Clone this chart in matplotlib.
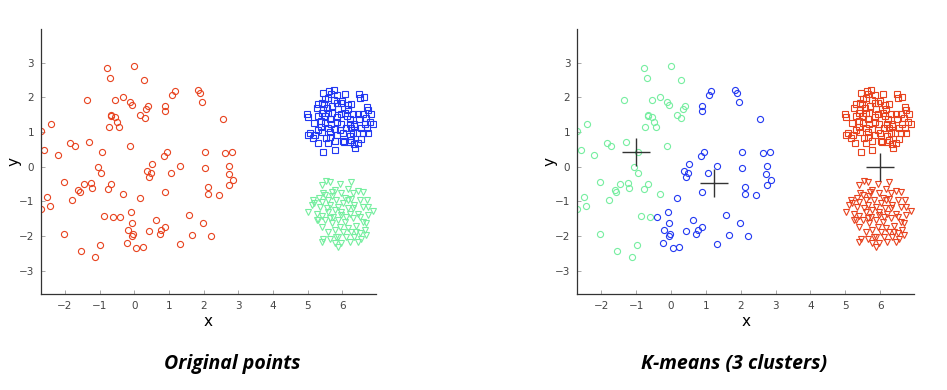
import numpy as np
import matplotlib
matplotlib.use("Agg")
import matplotlib.pyplot as plt

# --- dati ---
# disco centrale (cerchi)
circ_x = [-0.79, 0.00, -0.70, 0.28, -1.36, -0.55, -0.33, -0.12, -0.06, 0.40,
          0.35, 0.16, 0.30, -0.66, -0.66, -0.56, -0.49, -0.74, -0.44, -2.41,
          -2.69, -2.59, -1.85, -1.72, -1.30, -0.12, -2.20, -0.94, -1.05, -0.96,
          0.51, 0.38, 0.48, 0.42, -2.03, -1.46, -1.24, -1.21, -0.67, -0.77,
          -1.62, -1.57, -0.32, 0.16, -2.51, -1.79, -2.43, -2.69, -0.09, -0.87,
          -0.61, -0.41, -0.06, 0.63, -0.19, 0.42, -0.03, -0.07, -2.03, -0.98,
          -0.22, 0.24, 0.06, -1.55, -1.12,
          1.16, 1.10, 1.84, 1.89, 1.95, 0.90, 0.90, 2.56, 0.94, 0.87,
          2.05, 2.63, 2.83, 1.31, 2.03, 2.74, 1.07, 2.73, 2.86, 2.74,
          2.13, 2.13, 2.44, 0.90, 1.58, 1.98, 0.88, 0.76, 0.73, 1.67,
          2.21, 1.31]
circ_y = [2.83, 2.90, 2.55, 2.49, 1.91, 1.92, 2.01, 1.85, 1.78, 1.76,
          1.66, 1.49, 1.39, 1.50, 1.45, 1.43, 1.30, 1.15, 1.13, 1.23,
          1.02, 0.48, 0.69, 0.60, 0.72, 0.60, 0.35, 0.43, 0.00, -0.19,
          0.09, -0.11, -0.18, -0.29, -0.45, -0.51, -0.47, -0.61, -0.49, -0.65,
          -0.66, -0.74, -0.78, -0.89, -0.87, -0.97, -1.14, -1.23, -1.31, -1.43,
          -1.46, -1.46, -1.62, -1.54, -1.83, -1.86, -1.94, -2.01, -1.95, -2.25,
          -2.21, -2.31, -2.35, -2.43, -2.61,
          2.18, 2.07, 2.22, 2.13, 1.87, 1.76, 1.61, 1.36, 0.43, 0.32,
          0.43, 0.38, 0.43, 0.02, -0.04, 0.02, -0.18, -0.22, -0.37, -0.53,
          -0.59, -0.80, -0.83, -0.73, -1.38, -1.63, -1.74, -1.83, -1.93, -1.97,
          -1.99, -2.22]

# gruppo in alto a destra (quadrati)
sq_x = [5.63, 5.75, 5.45, 5.66, 5.86, 6.07, 6.47, 6.62, 5.59, 5.50,
        5.76, 6.00, 6.26, 5.30, 5.41, 5.48, 5.71, 5.84, 5.95, 6.72,
        5.26, 5.56, 5.43, 5.88, 6.17, 6.74, 4.99, 5.30, 5.58, 5.95,
        6.13, 6.30, 6.45, 6.59, 6.83, 5.02, 5.38, 5.64, 5.84, 6.22,
        6.49, 6.68, 5.50, 5.67, 5.97, 6.21, 6.33, 6.81, 6.88, 5.38,
        5.59, 5.78, 6.12, 6.26, 6.53, 6.72, 5.08, 5.21, 5.41, 5.64,
        5.85, 6.01, 6.21, 6.43, 6.74, 5.16, 5.54, 5.64, 5.78, 6.02,
        6.26, 6.53, 5.29, 6.05, 6.21, 6.35, 6.45, 5.45, 5.78, 6.37,
        6.07, 6.35, 5.69, 5.19, 5.50, 6.64, 5.84, 5.02, 6.50, 5.40,
        5.93, 6.31, 5.59, 6.15, 5.31, 6.59]
sq_y = [2.19, 2.22, 2.11, 2.08, 2.06, 2.08, 2.08, 2.00, 1.98, 1.96,
        1.91, 1.88, 1.80, 1.81, 1.83, 1.82, 1.76, 1.83, 1.83, 1.71,
        1.68, 1.68, 1.64, 1.67, 1.65, 1.63, 1.51, 1.47, 1.55, 1.51,
        1.47, 1.51, 1.51, 1.51, 1.51, 1.42, 1.32, 1.36, 1.30, 1.36,
        1.36, 1.39, 1.26, 1.22, 1.23, 1.23, 1.18, 1.28, 1.23, 1.14,
        1.11, 1.08, 1.12, 1.11, 1.11, 1.11, 0.97, 0.92, 0.99, 0.99,
        0.91, 0.97, 0.88, 0.97, 0.97, 0.83, 0.83, 0.86, 0.75, 0.73,
        0.78, 0.81, 0.68, 0.70, 0.70, 0.66, 0.68, 0.41, 0.49, 0.54,
        1.55, 1.24, 1.55, 1.26, 1.45, 1.23, 1.42, 0.92, 1.98, 1.55,
        1.07, 0.97, 0.68, 1.79, 1.07, 0.97]

# gruppo in basso a destra (triangoli)
tri_x = [5.53, 5.64, 5.93, 6.26, 5.40, 5.78, 6.16, 6.45, 6.59, 5.43,
         5.71, 5.97, 6.31, 5.16, 5.33, 5.59, 5.83, 6.07, 6.26, 6.50,
         6.72, 5.02, 5.19, 5.40, 5.64, 5.88, 6.15, 6.35, 6.59, 6.88,
         5.26, 5.40, 5.59, 5.78, 5.97, 6.21, 6.45, 6.74, 5.31, 5.50,
         5.64, 5.88, 6.07, 6.31, 6.50, 5.40, 5.69, 5.93, 6.16, 6.40,
         6.64, 5.78, 6.02, 6.26, 6.50, 6.69, 5.45, 5.64, 5.88, 6.12,
         6.35, 6.55, 5.78, 5.97, 6.21, 5.55, 5.74, 6.02, 6.31, 5.12,
         6.59, 6.40, 5.59, 5.35, 5.88, 6.74, 6.16, 5.69, 5.50, 5.97,
         5.26, 6.69, 6.12, 5.83, 6.45, 5.40]
tri_y = [-0.40, -0.43, -0.50, -0.45, -0.53, -0.67, -0.63, -0.70, -0.72, -0.75,
         -0.72, -0.75, -0.77, -0.96, -0.91, -0.96, -0.96, -0.91, -0.93, -0.96,
         -0.96, -1.30, -1.04, -1.01, -1.11, -1.15, -1.20, -1.11, -1.15, -1.28,
         -1.35, -1.42, -1.30, -1.25, -1.30, -1.37, -1.35, -1.39, -1.54, -1.54,
         -1.49, -1.54, -1.59, -1.49, -1.44, -1.73, -1.63, -1.73, -1.78, -1.71,
         -1.83, -1.83, -1.88, -1.88, -1.92, -1.97, -2.07, -2.07, -2.02, -2.02,
         -2.02, -2.07, -2.21, -2.21, -2.16, -1.20, -1.44, -1.06, -1.20, -1.11,
         -1.59, -1.88, -1.88, -1.15, -2.31, -1.15, -0.96, -0.85, -0.82, -1.39,
         -1.54, -1.63, -1.44, -2.02, -2.16, -2.16]

# centroidi k-means
cent_x = [-1.01, 1.24, 6.00]
cent_y = [0.41, -0.47, 0.00]

RED = "#e8431f"
BLUE = "#2238f2"
GREEN = "#76eea0"
clust_colors = [GREEN, BLUE, RED]

groups = [
    (np.array(circ_x), np.array(circ_y), "o", RED),
    (np.array(sq_x), np.array(sq_y), "s", BLUE),
    (np.array(tri_x), np.array(tri_y), "v", GREEN),
]

# assegnazione al centroide piu' vicino
cx = np.array(cent_x)
cy = np.array(cent_y)


def assign(x, y):
    d = (x[:, None] - cx[None, :]) ** 2 + (y[:, None] - cy[None, :]) ** 2
    return np.argmin(d, axis=1)


fig = plt.figure(figsize=(9.47, 3.90), dpi=100)
ax1 = fig.add_axes([0.0433, 0.246, 0.3537, 0.679])
ax2 = fig.add_axes([0.6096, 0.246, 0.3555, 0.679])

msize = {"o": 4.4, "s": 4.3, "v": 4.8}

for x, y, m, c in groups:
    ax1.plot(x, y, linestyle="none", marker=m, mfc="none", mec=c,
             ms=msize[m], mew=0.8)

for x, y, m, c in groups:
    lab = assign(x, y)
    for k in range(3):
        sel = lab == k
        ax2.plot(x[sel], y[sel], linestyle="none", marker=m, mfc="none",
                 mec=clust_colors[k], ms=msize[m], mew=0.8)

ax2.plot(cx, cy, linestyle="none", marker="+", color="#333333", ms=20, mew=1.0)

for ax in (ax1, ax2):
    ax.set_xlim(-2.69, 6.97)
    ax.set_ylim(-3.67, 3.96)
    ax.set_xticks(range(-2, 7))
    ax.set_yticks(range(-3, 4))
    for s in ("top", "right"):
        ax.spines[s].set_visible(False)
    for s in ("left", "bottom"):
        ax.spines[s].set_color("#333333")
        ax.spines[s].set_linewidth(0.9)
    ax.tick_params(direction="in", length=3, width=0.6, colors="#999999",
                   labelcolor="#444444", labelsize=7.5, pad=5)
    ax.set_xlabel("x", fontsize=11, labelpad=2)
    ax.set_ylabel("y", fontsize=11)
    ax.yaxis.set_label_coords(-0.058, 0.5)

fig.text(0.245, 0.066, "Original points", ha="center", va="center",
         fontsize=14, fontweight="bold", style="italic", family="Open Sans")
fig.text(0.775, 0.066, "K-means (3 clusters)", ha="center", va="center",
         fontsize=14, fontweight="bold", style="italic", family="Open Sans")

fig.savefig("out.png", dpi=100)
